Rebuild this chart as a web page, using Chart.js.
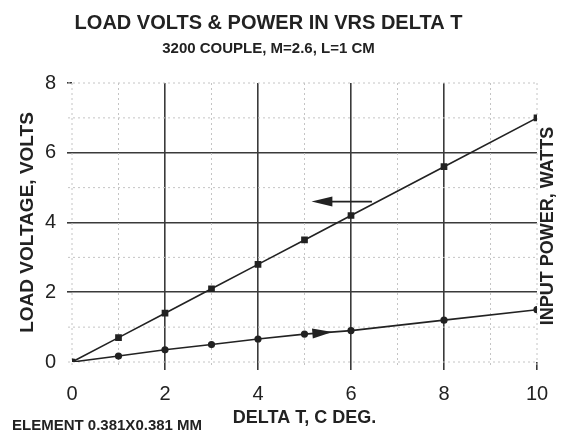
<!DOCTYPE html>
<html>
<head>
<meta charset="utf-8">
<script src="https://cdn.jsdelivr.net/npm/chart.js@4"></script>
<style>
html, body { margin: 0; padding: 0; background: #fff; }
#wrap { width: 571px; height: 433px; }
</style>
</head>
<body>
<div id="wrap"><canvas id="myChart" width="571" height="433"></canvas></div>
<script>
// values
let deltaT = [0, 1, 2, 3, 4, 5, 6, 8, 10];
let loadVolts = [0, 0.7, 1.4, 2.1, 2.8, 3.5, 4.2, 5.6, 7.0];
let inputPower = [0, 0.17, 0.35, 0.5, 0.66, 0.8, 0.9, 1.2, 1.5];
let xTicks = [0, 2, 4, 6, 8, 10];
let yTicks = [0, 2, 4, 6, 8];
let minorX = [0, 1, 3, 5, 7, 9, 10];
let minorY = [0, 1, 3, 5, 7, 8];

let ink = '#222';
let gridInk = '#3a3a3a';
let clear = 'rgba(0,0,0,0)';
let face = '"Liberation Sans", Arial, sans-serif';

function toPoints(ys) {
  let pts = [];
  for (let i = 0; i < deltaT.length; i++) {
    pts.push({ x: deltaT[i], y: ys[i] });
  }
  return pts;
}

// faint dotted grid at the odd values and the frame edges
const minorGrid = {
  id: 'minorGrid',
  beforeDatasetsDraw(chart) {
    let c = chart.ctx;
    let x = chart.scales.x, y = chart.scales.y;
    c.save();
    c.strokeStyle = '#c4c4c4';
    c.lineWidth = 1;
    c.setLineDash([2, 3]);
    for (let v of minorX) {
      let px = x.getPixelForValue(v);
      c.beginPath();
      c.moveTo(px, y.getPixelForValue(8));
      c.lineTo(px, y.getPixelForValue(0) + 4);
      c.stroke();
    }
    for (let v of minorY) {
      let py = y.getPixelForValue(v);
      c.beginPath();
      c.moveTo(x.getPixelForValue(0) - 4, py);
      c.lineTo(x.getPixelForValue(10), py);
      c.stroke();
    }
    c.restore();
  }
};

function arrowHead(c, tipX, tipY, baseX, baseY, half) {
  let ang = Math.atan2(tipY - baseY, tipX - baseX);
  let nx = -Math.sin(ang) * half, ny = Math.cos(ang) * half;
  c.beginPath();
  c.moveTo(tipX, tipY);
  c.lineTo(baseX + nx, baseY + ny);
  c.lineTo(baseX - nx, baseY - ny);
  c.closePath();
  c.fill();
}

// arrows telling which axis each curve belongs to, plus loose labels
const notes = {
  id: 'notes',
  afterDatasetsDraw(chart) {
    let c = chart.ctx;
    let x = chart.scales.x, y = chart.scales.y;
    c.save();
    c.strokeStyle = ink;
    c.fillStyle = ink;
    c.lineWidth = 1.6;
    // left arrow above the voltage line
    let ay = y.getPixelForValue(4.6);
    c.beginPath();
    c.moveTo(x.getPixelForValue(6.45), ay);
    c.lineTo(x.getPixelForValue(5.5), ay);
    c.stroke();
    arrowHead(c, x.getPixelForValue(5.15), ay, x.getPixelForValue(5.6), ay, 5);
    // right arrow sitting on the power line
    arrowHead(c, x.getPixelForValue(5.6), y.getPixelForValue(0.86),
      x.getPixelForValue(5.17), y.getPixelForValue(0.817), 5);

    c.font = 'bold 18px ' + face;
    c.textAlign = 'center';
    c.textBaseline = 'middle';
    c.translate(548, 226);
    c.rotate(-Math.PI / 2);
    c.fillText('INPUT POWER, WATTS', 0, 0);
    c.restore();

    c.save();
    c.fillStyle = ink;
    c.font = 'bold 15px ' + face;
    c.textAlign = 'left';
    c.textBaseline = 'middle';
    c.fillText('ELEMENT 0.381X0.381 MM', 12, 426);
    c.restore();
  }
};

let ctx = document.getElementById('myChart').getContext('2d');

const myChart = new Chart(ctx, {
  type: 'line',
  data: {
    datasets: [{
      label: 'Load voltage',
      data: toPoints(loadVolts),
      borderColor: ink,
      backgroundColor: ink,
      borderWidth: 1.6,
      pointStyle: 'rect',
      pointRadius: 3.6,
      tension: 0
    }, {
      label: 'Input power',
      data: toPoints(inputPower),
      borderColor: ink,
      backgroundColor: ink,
      borderWidth: 1.6,
      pointStyle: 'circle',
      pointRadius: 2.8,
      tension: 0
    }]
  },
  options: {
    responsive: false,
    animation: false,
    devicePixelRatio: 1,
    layout: { padding: { left: 0, right: 34, top: 0, bottom: 0 } },
    plugins: {
      legend: { display: false },
      tooltip: { enabled: false },
      title: {
        display: true,
        text: 'LOAD VOLTS & POWER IN VRS DELTA T',
        color: ink,
        font: { family: face, size: 20, weight: 'bold' },
        padding: { top: 11, bottom: 3 }
      },
      subtitle: {
        display: true,
        text: '3200 COUPLE, M=2.6, L=1 CM',
        color: ink,
        font: { family: face, size: 15, weight: 'bold' },
        padding: { top: 2, bottom: 25 }
      }
    },
    scales: {
      x: {
        type: 'linear',
        min: 0,
        max: 10,
        afterBuildTicks: (s) => { s.ticks = xTicks.map(v => ({ value: v })); },
        afterFit: (s) => { s.height = 71; },
        ticks: {
          color: ink,
          padding: 12,
          font: { family: face, size: 20 }
        },
        grid: {
          lineWidth: 1.6,
          tickLength: 8,
          color: (c) => (c.tick && c.tick.value > 0 && c.tick.value < 10) ? gridInk : clear,
          tickColor: (c) => (c.tick && c.tick.value > 0) ? gridInk : clear
        },
        border: { display: false },
        title: {
          display: true,
          text: 'DELTA T, C DEG.',
          color: ink,
          font: { family: face, size: 18, weight: 'bold' },
          padding: { top: 0, bottom: 4 }
        }
      },
      y: {
        min: 0,
        max: 8,
        afterBuildTicks: (s) => { s.ticks = yTicks.map(v => ({ value: v })); },
        afterFit: (s) => { s.width = 72; },
        ticks: {
          color: ink,
          padding: 11,
          font: { family: face, size: 20 }
        },
        grid: {
          lineWidth: 1.6,
          tickLength: 5,
          color: (c) => (c.tick && c.tick.value > 0 && c.tick.value < 8) ? gridInk : clear,
          tickColor: (c) => (c.tick && c.tick.value > 0) ? gridInk : clear
        },
        border: { display: false },
        title: {
          display: true,
          text: 'LOAD VOLTAGE, VOLTS',
          color: ink,
          font: { family: face, size: 19, weight: 'bold' },
          padding: { top: 16, bottom: 0 }
        }
      }
    }
  },
  plugins: [minorGrid, notes]
});
</script>
</body>
</html>
